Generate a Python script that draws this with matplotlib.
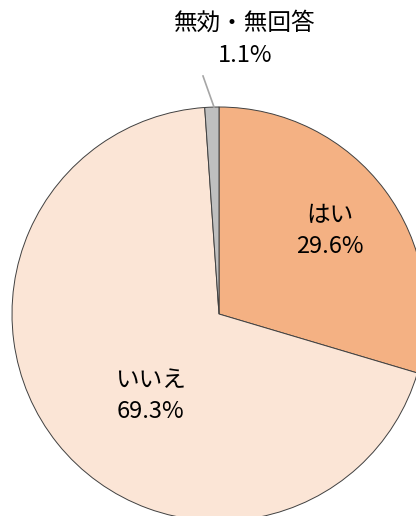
import matplotlib
matplotlib.use("Agg")
import matplotlib.pyplot as plt

plt.rcParams['font.family'] = ['Noto Sans CJK JP', 'DejaVu Sans']

# data
labels = ['はい', 'いいえ', '無効・無回答']
values = [29.6, 69.3, 1.1]
colors = ['#F4B183', '#FBE5D6', '#BFBFBF']

W, H = 416, 516
fig = plt.figure(figsize=(W / 100, H / 100), dpi=100)
ax = fig.add_axes([0, 0, 1, 1])

cx, cy, r = 219, H - 314, 207
ax.pie(values, colors=colors, startangle=90, counterclock=False,
       center=(cx, cy), radius=r, frame=True,
       wedgeprops=dict(edgecolor='#404040', linewidth=0.7))
ax.set_xlim(0, W)
ax.set_ylim(0, H)
ax.set_aspect('equal')
ax.axis('off')

fs = 17
# labels
ax.text(330, H - 231, f'{labels[0]}\n{values[0]}%', ha='center', va='center',
        fontsize=fs, linespacing=1.4)
ax.text(150, H - 396, f'{labels[1]}\n{values[1]}%', ha='center', va='center',
        fontsize=fs, linespacing=1.4)
ax.text(245, H - 39, f'{labels[2]}\n{values[2]}%', ha='center', va='center',
        fontsize=fs, linespacing=1.5)
ax.plot([203, 214], [H - 76, H - 107], color='#A6A6A6', linewidth=1.2)

fig.savefig('out.png', dpi=100)
